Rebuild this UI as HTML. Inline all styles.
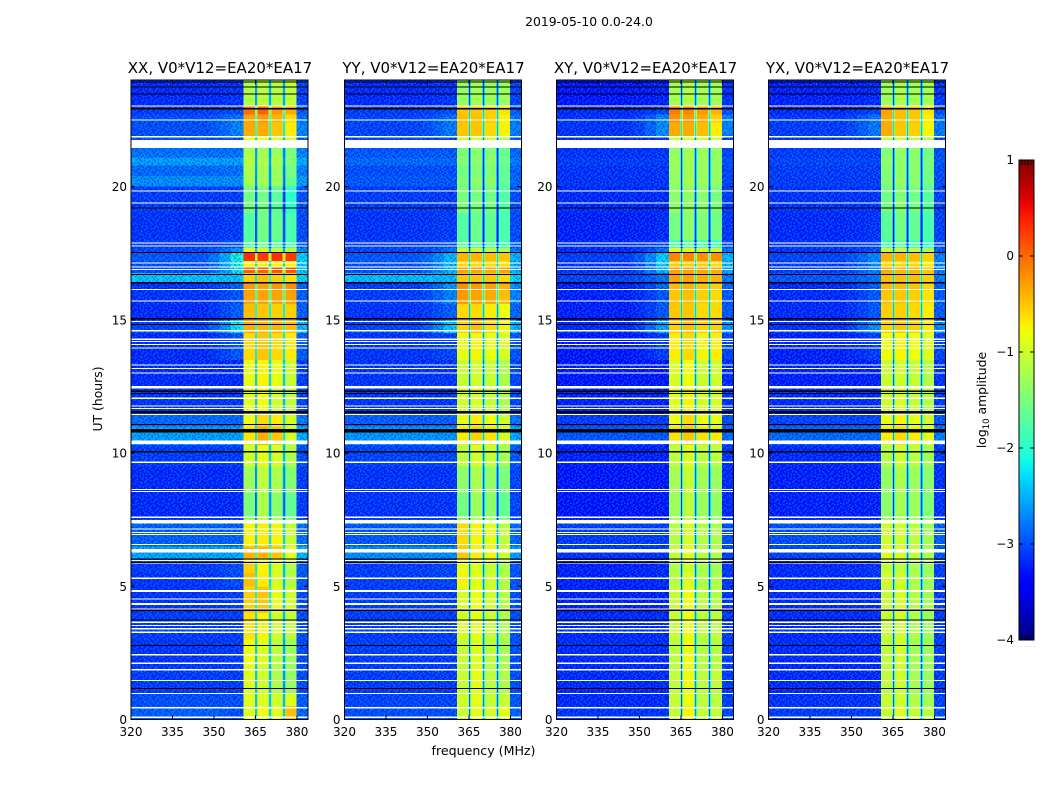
<!DOCTYPE html>
<html lang="en">
<head>
<meta charset="utf-8">
<title>2019-05-10 0.0-24.0</title>
<style>
html,body{margin:0;padding:0;background:#fff;width:1050px;height:800px;overflow:hidden}
svg{display:block}
text{font-family:"DejaVu Sans","Liberation Sans",sans-serif;fill:#000}
</style>
</head>
<body>
<svg id="chart" xmlns="http://www.w3.org/2000/svg" width="1050" height="800" viewBox="0 0 1050 800">
  <defs>
    <linearGradient id="jetGradient" x1="0" y1="1" x2="0" y2="0"></linearGradient>
    <pattern id="speckle" patternUnits="userSpaceOnUse" width="27" height="21"></pattern>
  </defs>
  <rect x="0" y="0" width="1050" height="800" fill="#fff"/>
  <text x="589" y="26" font-size="12.4" text-anchor="middle">2019-05-10 0.0-24.0</text>
  <text x="483.5" y="755" font-size="12.6" text-anchor="middle">frequency (MHz)</text>
  <text x="0" y="0" font-size="12.4" text-anchor="middle" transform="translate(102,399) rotate(-90)">UT (hours)</text>
  <g id="panels"></g>
  <g id="colorbar"></g>
  <text x="0" y="0" font-size="12.4" text-anchor="middle" transform="translate(986,400) rotate(-90)">log<tspan font-size="8.5" dy="3">10</tspan><tspan dy="-3"> amplitude</tspan></text>
</svg>
<script>
// ---- data ----
const panelTitles = ['XX, V0*V12=EA20*EA17', 'YY, V0*V12=EA20*EA17', 'XY, V0*V12=EA20*EA17', 'YX, V0*V12=EA20*EA17'];
const frequencyTicks = [320, 335, 350, 365, 380];
const hourTicks = [0, 5, 10, 15, 20];
const colorbarTicks = [-4, -3, -2, -1, 0, 1];
const colorbarMinorFractions = [0.2, 0.4, 0.6, 0.8];
const colorbarDotFractions = [0, 0.2, 0.4, 0.6, 0.8, 1];

// start hour of every time block; the last entry closes the last block
const rowStartHours = [0,0.5,1,2,3,4,5,5.5,6,6.5,7.5,8.5,9.5,10.3,11,11.5,12.5,13.5,14.5,15,15.6,16.1,16.4,16.75,17,17.2,17.5,17.7,18,19,20,20.4,20.8,21.1,21.45,21.9,22.4,22.7,23,24];

// log10 amplitude per block: [background, shoulder, band1, band2, band3, band4]
const xxLevels = [
[-2.9,-3.0,-0.9,-0.8,-0.9,-0.45],[-3.0,-3.0,-0.9,-0.9,-1.0,-0.9],[-3.1,-3.1,-0.9,-1.0,-1.2,-1.35],[-3.15,-3.1,-0.8,-0.9,-1.1,-1.3],
[-3.1,-3.1,-0.65,-0.75,-1.0,-1.1],[-3.15,-3.1,-0.55,-0.5,-0.85,-1.0],[-3.15,-3.0,-0.45,-0.7,-0.95,-1.2],[-3.1,-3.0,-0.55,-0.75,-0.95,-1.2],
[-2.5,-2.5,-0.4,-0.4,-0.5,-0.85],[-2.9,-2.9,-0.75,-0.7,-0.75,-1.05],[-3.2,-3.2,-1.5,-1.2,-1.4,-1.65],[-3.2,-3.2,-1.3,-1.1,-1.2,-1.45],
[-3.1,-3.1,-1.0,-0.85,-0.95,-1.2],[-2.55,-2.55,-0.65,-0.35,-0.5,-0.95],[-2.85,-2.85,-0.8,-0.6,-0.7,-0.95],[-3.15,-3.15,-0.9,-0.8,-1.0,-1.1],
[-3.2,-3.2,-0.85,-0.75,-0.85,-1.05],[-3.2,-2.95,-0.6,-0.5,-0.6,-0.7],[-3.05,-2.2,-0.35,-0.4,-0.4,-0.45],[-3.2,-2.9,-0.45,-0.5,-0.55,-0.55],
[-3.15,-2.95,-0.3,-0.3,-0.3,-0.3],[-3.15,-2.9,-0.25,-0.3,-0.25,-0.2],[-2.35,-2.35,-0.55,-0.45,-0.55,-0.65],[-3.0,-2.2,0.05,0.05,0.1,0.1],
[-3.0,-2.1,-0.75,-0.75,-0.75,-0.75],[-2.95,-2.1,0.3,0.25,0.3,0.25],[-3.05,-2.6,-0.85,-0.95,-1.05,-1.1],[-3.1,-3.0,-1.7,-1.6,-1.7,-1.8],
[-3.15,-3.1,-1.75,-1.55,-1.6,-1.8],[-3.1,-3.1,-1.55,-1.55,-1.7,-2.0],[-2.65,-2.65,-1.25,-1.25,-1.3,-1.6],[-2.85,-2.8,-1.2,-1.25,-1.3,-1.55],
[-2.55,-2.55,-1.15,-1.2,-1.2,-1.45],[-2.8,-2.8,-1.2,-1.25,-1.3,-1.5],[-3.0,-3.0,-0.8,-0.8,-0.9,-1.0],[-3.0,-2.7,-0.35,-0.35,-0.5,-0.7],
[-3.0,-2.8,-0.3,-0.25,-0.4,-0.6],[-3.1,-3.0,-0.05,0.05,-0.25,-0.35],[-3.2,-3.15,-1.2,-1.1,-1.15,-1.1]
];
const yyLevels = [
[-3.0,-3.0,-1.0,-0.85,-0.95,-0.85],[-3.05,-3.05,-1.0,-0.85,-1.05,-1.05],[-3.1,-3.1,-1.05,-0.85,-1.1,-1.2],[-3.1,-3.1,-1.05,-0.9,-1.1,-1.25],
[-3.1,-3.1,-0.95,-0.85,-1.05,-1.2],[-3.1,-3.1,-0.95,-0.8,-1.0,-1.15],[-3.1,-3.05,-0.75,-0.85,-1.0,-1.15],[-3.1,-3.05,-0.85,-0.9,-1.05,-1.2],
[-2.65,-2.65,-0.5,-0.7,-0.75,-1.0],[-2.95,-2.95,-0.6,-0.75,-0.85,-1.1],[-3.15,-3.15,-1.55,-1.3,-1.4,-1.65],[-3.15,-3.15,-1.4,-1.2,-1.35,-1.5],
[-3.05,-3.05,-1.1,-0.95,-1.05,-1.25],[-2.6,-2.6,-0.7,-0.55,-0.65,-0.95],[-2.9,-2.9,-0.85,-0.7,-0.8,-1.0],[-3.15,-3.15,-1.0,-0.95,-1.05,-1.2],
[-3.15,-3.15,-1.05,-1.0,-1.05,-1.2],[-3.15,-3.05,-0.85,-0.75,-0.85,-0.95],[-3.05,-2.3,-0.55,-0.45,-0.6,-0.75],[-3.15,-2.9,-0.6,-0.6,-0.7,-0.8],
[-3.1,-2.7,-0.25,-0.3,-0.35,-0.45],[-3.1,-2.6,-0.2,-0.25,-0.3,-0.4],[-2.4,-2.4,-0.5,-0.5,-0.5,-0.6],[-3.0,-2.4,-0.3,-0.3,-0.35,-0.3],
[-3.0,-2.4,-0.6,-0.6,-0.6,-0.65],[-2.95,-2.4,-0.4,-0.4,-0.45,-0.5],[-3.05,-2.8,-1.0,-1.05,-1.1,-1.2],[-3.1,-3.0,-1.7,-1.65,-1.7,-1.85],
[-3.15,-3.1,-1.75,-1.6,-1.65,-1.8],[-3.1,-3.1,-1.5,-1.5,-1.55,-1.75],[-2.95,-2.95,-1.5,-1.4,-1.4,-1.65],[-3.0,-3.0,-1.55,-1.45,-1.45,-1.65],
[-2.85,-2.85,-1.45,-1.4,-1.4,-1.6],[-2.95,-2.95,-1.5,-1.4,-1.45,-1.6],[-3.05,-3.05,-1.0,-0.95,-1.0,-1.2],[-3.05,-2.75,-0.5,-0.5,-0.6,-0.75],
[-3.05,-2.8,-0.45,-0.45,-0.55,-0.75],[-3.1,-3.0,-0.5,-0.5,-0.55,-0.65],[-3.2,-3.15,-1.35,-1.25,-1.3,-1.3]
];
const xyLevels = [
[-3.15,-3.15,-1.05,-0.75,-1.05,-1.05],[-3.2,-3.2,-1.05,-0.8,-1.1,-1.1],[-3.2,-3.2,-1.1,-0.8,-1.1,-1.1],[-3.2,-3.2,-1.1,-0.8,-1.15,-1.15],
[-3.2,-3.2,-1.05,-0.8,-1.1,-1.1],[-3.25,-3.25,-1.05,-0.8,-1.1,-1.15],[-3.25,-3.2,-1.15,-0.9,-1.2,-1.2],[-3.25,-3.2,-1.2,-1.0,-1.2,-1.25],
[-3.15,-3.15,-1.05,-0.85,-1.1,-1.15],[-3.1,-3.1,-1.15,-0.95,-1.15,-1.2],[-3.3,-3.3,-1.3,-1.1,-1.3,-1.35],[-3.3,-3.3,-1.25,-1.05,-1.25,-1.3],
[-3.25,-3.25,-1.1,-0.9,-1.1,-1.1],[-2.95,-2.95,-0.65,-0.5,-0.65,-0.7],[-3.1,-3.1,-0.8,-0.6,-0.8,-0.85],[-3.25,-3.25,-0.9,-0.75,-0.95,-0.95],
[-3.3,-3.3,-0.95,-0.8,-1.0,-1.0],[-3.3,-3.1,-0.7,-0.6,-0.75,-0.7],[-3.2,-2.5,-0.55,-0.45,-0.55,-0.55],[-3.25,-2.95,-0.5,-0.5,-0.6,-0.6],
[-3.25,-2.95,-0.5,-0.45,-0.55,-0.6],[-3.25,-2.85,-0.45,-0.4,-0.5,-0.55],[-3.05,-2.8,-0.3,-0.3,-0.35,-0.4],[-3.15,-2.4,-0.3,-0.3,-0.3,-0.35],
[-3.15,-2.3,-0.55,-0.55,-0.55,-0.6],[-3.1,-2.3,-0.15,-0.15,-0.2,-0.2],[-3.2,-2.8,-0.85,-0.85,-0.9,-1.0],[-3.2,-3.1,-1.8,-1.7,-1.75,-1.85],
[-3.25,-3.2,-1.55,-1.4,-1.45,-1.55],[-3.2,-3.2,-1.4,-1.35,-1.4,-1.5],[-3.15,-3.15,-1.35,-1.25,-1.3,-1.35],[-3.15,-3.15,-1.35,-1.25,-1.3,-1.35],
[-3.1,-3.1,-1.3,-1.25,-1.3,-1.35],[-3.15,-3.15,-1.35,-1.25,-1.3,-1.35],[-3.2,-3.2,-1.0,-0.9,-0.95,-1.0],[-3.15,-2.65,-0.35,-0.35,-0.45,-0.7],
[-3.15,-2.7,-0.2,-0.25,-0.35,-0.55],[-3.2,-3.05,-0.1,-0.15,-0.25,-0.4],[-3.3,-3.25,-1.25,-1.15,-1.25,-1.25]
];
const yxLevels = [
[-3.1,-3.1,-1.05,-0.9,-1.05,-1.1],[-3.15,-3.15,-1.05,-1.0,-1.15,-1.25],[-3.2,-3.2,-1.1,-1.0,-1.25,-1.3],[-3.2,-3.2,-1.1,-1.0,-1.25,-1.3],
[-3.2,-3.2,-1.05,-1.0,-1.2,-1.3],[-3.2,-3.2,-1.05,-0.95,-1.15,-1.25],[-3.2,-3.15,-1.0,-1.0,-1.2,-1.3],[-3.2,-3.15,-1.05,-1.1,-1.2,-1.3],
[-3.05,-3.05,-0.9,-0.95,-1.05,-1.2],[-3.0,-3.0,-1.0,-1.0,-1.1,-1.25],[-3.25,-3.25,-1.4,-1.25,-1.3,-1.45],[-3.25,-3.25,-1.35,-1.2,-1.3,-1.4],
[-3.2,-3.2,-1.15,-1.0,-1.1,-1.25],[-2.85,-2.85,-0.7,-0.6,-0.7,-0.85],[-3.05,-3.05,-0.85,-0.75,-0.85,-1.0],[-3.2,-3.2,-1.0,-0.95,-1.05,-1.15],
[-3.25,-3.25,-1.05,-1.0,-1.05,-1.15],[-3.25,-3.1,-0.8,-0.75,-0.8,-0.9],[-3.15,-2.6,-0.55,-0.5,-0.55,-0.7],[-3.2,-2.95,-0.55,-0.55,-0.6,-0.7],
[-3.2,-2.95,-0.5,-0.5,-0.55,-0.65],[-3.2,-2.9,-0.45,-0.45,-0.5,-0.6],[-2.95,-2.8,-0.45,-0.45,-0.45,-0.55],[-3.1,-2.7,-0.35,-0.4,-0.4,-0.5],
[-3.1,-2.7,-0.6,-0.6,-0.6,-0.7],[-3.05,-2.7,-0.4,-0.4,-0.45,-0.55],[-3.15,-3.0,-1.0,-1.05,-1.1,-1.2],[-3.15,-3.1,-1.8,-1.7,-1.8,-1.9],
[-3.2,-3.15,-1.7,-1.55,-1.65,-1.8],[-3.15,-3.15,-1.55,-1.45,-1.55,-1.7],[-3.1,-3.1,-1.45,-1.35,-1.4,-1.55],[-3.1,-3.1,-1.45,-1.35,-1.4,-1.55],
[-3.05,-3.05,-1.4,-1.35,-1.4,-1.5],[-3.1,-3.1,-1.45,-1.35,-1.4,-1.55],[-3.15,-3.15,-1.0,-1.0,-1.05,-1.2],[-3.1,-2.75,-0.35,-0.5,-0.55,-0.75],
[-3.1,-2.8,-0.35,-0.45,-0.5,-0.7],[-3.2,-3.05,-0.3,-0.45,-0.5,-0.65],[-3.25,-3.2,-1.3,-1.2,-1.25,-1.25]
];
const panelLevels = [xxLevels, yyLevels, xyLevels, yxLevels];

// frequency channel edges (MHz); each channel reads one block column
// column 0 = background blended toward the shoulder by channelShoulderShare
const channelEdges = [320,348,352,356,360.6,364.8,365.1,365.45,365.75,369.8,370.1,370.45,370.8,374.8,375.1,375.45,375.8,379.9,384];
const channelSource = [0,0,0,0,2,2,2,3,3,3,3,4,4,4,4,5,5,0];
const channelShoulderShare = [0,0.2,0.55,1,0,0,0,0,0,0,0,0,0,0,0,0,0,0.7];
const channelOffset = [0,0,0,0,0,-0.95,-1.9,-0.95,0,-0.95,-1.9,-0.95,0,-0.95,-1.9,-0.95,0,0.1];

// flagged (white) and zero (black) time ranges, hours
const flaggedRanges = [[0.05,0.11],[0.42,0.47],[0.95,1.0],[1.44,1.49],[1.84,1.89],[2.09,2.14],[2.41,2.46],[3.25,3.30],[3.38,3.43],[3.50,3.55],[3.63,3.68],[4.11,4.16],[4.30,4.38],[4.50,4.55],[4.78,4.86],[5.28,5.33],[5.85,5.89],[5.94,5.98],[6.26,6.40],[6.55,6.59],[6.93,6.97],[7.00,7.04],[7.13,7.17],[7.35,7.49],[7.56,7.62],[8.54,8.58],[8.62,8.66],[9.63,9.69],[10.33,10.43],[10.45,10.48],[11.43,11.47],[11.65,11.69],[11.75,11.79],[12.03,12.09],[12.43,12.51],[13.00,13.03],[13.16,13.20],[13.29,13.33],[13.93,13.97],[14.06,14.10],[14.16,14.20],[14.25,14.29],[14.57,14.61],[14.91,14.95],[15.68,15.72],[16.12,16.16],[16.87,16.91],[16.97,17.01],[17.11,17.15],[17.75,17.79],[17.86,17.90],[19.36,19.40],[19.81,19.85],[21.45,21.75],[21.85,21.89],[22.48,22.52],[23.01,23.05]];
const blackRanges = [[1.15,1.19],[2.75,2.79],[3.71,3.75],[4.08,4.12],[5.88,5.92],[6.00,6.04],[10.03,10.07],[10.78,10.90],[11.05,11.09],[11.49,11.57],[12.22,12.26],[12.30,12.34],[14.81,14.85],[15.02,15.06],[16.37,16.41],[16.68,16.72],[17.51,17.55],[19.18,19.22],[22.90,22.94],[23.45,23.49],[23.71,23.75],[23.91,23.95]];

// hand-typed speckle tile drawn over the quiet background: + lighter, - darker, . none
const speckleTile = [
  '+.-.+..-+.-.+-..+',
  '.-+..-.+.-+..+-.-',
  '-..+.+-..+.-.-.+.',
  '.+-.-..+-.+.-.+..',
  '+..-.+.-.+..-+.-+',
  '.-.+.-+..-.+..-..',
  '-+..-.+.+.-.+-.+-',
  '..-+..-.-+.-..+..',
  '+-.-.+.+..+.-+.-.',
  '.+.+-.-..-.+.-..+',
  '-.-..+.+-.+-..+-.',
  '.+.-+.-.+..-.+.+-',
  '+.-.-..+.-+.+.-..',
  '..+.+-+.-.-..-.+-'
];

// ---- layout and axis functions ----
const svgNS = 'http://www.w3.org/2000/svg';
const panelLefts = [131, 344.5, 556.5, 768.5];
const panelWidth = 177;
const plotTop = 80;
const plotBottom = 719.5;
const freqMin = 320, freqMax = 384, hourMin = 0, hourMax = 24;
const cbLeft = 1019, cbRight = 1034, cbTop = 160, cbBottom = 640;
const levelMin = -4, levelMax = 1;

function xScale(left, mhz) { return left + (mhz - freqMin) / (freqMax - freqMin) * panelWidth; }
function yScale(hour) { return plotBottom - (hour - hourMin) / (hourMax - hourMin) * (plotBottom - plotTop); }
function cbScale(level) { return cbBottom - (level - levelMin) / (levelMax - levelMin) * (cbBottom - cbTop); }

function jetPart(t, pts) {
  for (let i = 1; i < pts.length; i++) {
    if (t <= pts[i][0]) {
      const a = pts[i - 1], b = pts[i];
      return a[1] + (b[1] - a[1]) * (t - a[0]) / (b[0] - a[0]);
    }
  }
  return pts[pts.length - 1][1];
}
function jet(level) {
  const t = Math.max(0, Math.min(1, (level - levelMin) / (levelMax - levelMin)));
  const r = jetPart(t, [[0, 0], [0.35, 0], [0.66, 1], [0.89, 1], [1, 0.5]]);
  const g = jetPart(t, [[0, 0], [0.125, 0], [0.375, 1], [0.64, 1], [0.91, 0], [1, 0]]);
  const b = jetPart(t, [[0, 0.5], [0.11, 1], [0.34, 1], [0.65, 0], [1, 0]]);
  return 'rgb(' + Math.round(r * 255) + ',' + Math.round(g * 255) + ',' + Math.round(b * 255) + ')';
}
function make(parent, tag, attrs, content) {
  const el = document.createElementNS(svgNS, tag);
  for (const k in attrs) el.setAttribute(k, attrs[k]);
  if (content !== undefined) el.textContent = content;
  parent.appendChild(el);
  return el;
}

// speckle pattern
const specklePattern = document.getElementById('speckle');
const speckleCell = 1.5;
speckleTile.forEach(function (rowText, r) {
  rowText.split('').forEach(function (ch, c) {
    if (ch === '.') return;
    const px = make(specklePattern, 'rect', {
      x: c * speckleCell, y: r * speckleCell, width: speckleCell, height: speckleCell,
      fill: ch === '+' ? '#00a0ff' : '#0000b0', 'fill-opacity': ch === '+' ? 0.45 : 0.4
    });
    
    
  });
});

const panelsGroup = document.getElementById('panels');

panelTitles.forEach(function (title, p) {
  const left = panelLefts[p];
  const right = left + panelWidth;
  const levels = panelLevels[p];
  const g = make(panelsGroup, 'g', {});
  
  

  const heat = make(g, 'g', { 'shape-rendering': 'crispEdges' });
  
  

  levels.forEach(function (row, r) {
    const y0 = yScale(rowStartHours[r + 1]);
    const y1 = yScale(rowStartHours[r]);
    channelSource.forEach(function (source, c) {
      const x0 = xScale(left, channelEdges[c]);
      const x1 = xScale(left, channelEdges[c + 1]);
      const share = channelShoulderShare[c];
      const base = source === 0 ? row[0] + share * (row[1] - row[0]) : row[source];
      const cell = make(heat, 'rect', {
        x: x0.toFixed(2), y: y0.toFixed(2),
        width: (x1 - x0).toFixed(2), height: (y1 - y0).toFixed(2),
        fill: jet(base + channelOffset[c])
      });
      
      
    });
  });

  const texLeft = make(g, 'rect', { x: left, y: plotTop, width: xScale(left, channelEdges[4]) - left, height: plotBottom - plotTop, fill: 'url(#speckle)' });
  
  
  const texRight = make(g, 'rect', { x: xScale(left, channelEdges[17]), y: plotTop, width: right - xScale(left, channelEdges[17]), height: plotBottom - plotTop, fill: 'url(#speckle)' });
  
  

  flaggedRanges.forEach(function (range) {
    const y0 = yScale(range[1]);
    const y1 = yScale(range[0]);
    const line = make(g, 'rect', { x: left, y: y0.toFixed(2), width: panelWidth, height: Math.max(1, y1 - y0).toFixed(2), fill: '#fff', 'shape-rendering': 'crispEdges' });
    
    
  });
  blackRanges.forEach(function (range) {
    const y0 = yScale(range[1]);
    const y1 = yScale(range[0]);
    const line = make(g, 'rect', { x: left, y: y0.toFixed(2), width: panelWidth, height: Math.max(1, y1 - y0).toFixed(2), fill: '#000', 'shape-rendering': 'crispEdges' });
    
    
  });

  const frame = make(g, 'rect', { x: left, y: plotTop, width: panelWidth, height: plotBottom - plotTop, fill: 'none', stroke: '#000', 'stroke-width': 1 });
  
  

  const titleEl = make(g, 'text', { x: left + panelWidth / 2 + 0.5, y: 73, 'font-size': 15, 'text-anchor': 'middle' }, title);
  
  

  frequencyTicks.forEach(function (f) {
    const x = xScale(left, f);
    const t1 = make(g, 'line', { x1: x, x2: x, y1: plotBottom, y2: plotBottom - 4, stroke: '#000', 'stroke-width': 1 });
    
    
    const t2 = make(g, 'line', { x1: x, x2: x, y1: plotTop, y2: plotTop + 4, stroke: '#000', 'stroke-width': 1 });
    
    
    const lab = make(g, 'text', { x: x, y: 736, 'font-size': 12, 'text-anchor': 'middle' }, String(f));
    
    
  });
  hourTicks.forEach(function (h) {
    const y = yScale(h);
    const t1 = make(g, 'line', { x1: left, x2: left + 4, y1: y, y2: y, stroke: '#000', 'stroke-width': 1 });
    
    
    const t2 = make(g, 'line', { x1: right, x2: right - 4, y1: y, y2: y, stroke: '#000', 'stroke-width': 1 });
    
    
    const lab = make(g, 'text', { x: left - 4, y: y + 4.5, 'font-size': 12, 'text-anchor': 'end' }, String(h));
    
    
  });
});

// colorbar
const cbGroup = document.getElementById('colorbar');
const gradient = document.getElementById('jetGradient');
for (let i = 0; i <= 50; i++) {
  make(gradient, 'stop', { offset: (i * 2) + '%', 'stop-color': jet(levelMin + (levelMax - levelMin) * i / 50) });
}
const cbBar = make(cbGroup, 'rect', { x: cbLeft, y: cbTop, width: cbRight - cbLeft, height: cbBottom - cbTop, fill: 'url(#jetGradient)', stroke: '#000', 'stroke-width': 1 });



colorbarTicks.forEach(function (level) {
  const y = cbScale(level);
  const t1 = make(cbGroup, 'line', { x1: cbLeft, x2: cbLeft + 4, y1: y, y2: y, stroke: '#000', 'stroke-width': 1 });
  
  
  const t2 = make(cbGroup, 'line', { x1: cbRight, x2: cbRight - 4, y1: y, y2: y, stroke: '#000', 'stroke-width': 1 });
  
  
  const lab = make(cbGroup, 'text', { x: 1014, y: y + 4, 'font-size': 12, 'text-anchor': 'end' }, level < 0 ? '\u2212' + Math.abs(level) : String(level));
  
  
});
colorbarMinorFractions.forEach(function (f) {
  const x = cbLeft + f * (cbRight - cbLeft);
  const top = make(cbGroup, 'line', { x1: x, x2: x, y1: cbTop, y2: cbTop + 5, stroke: '#000', 'stroke-width': 1 });
  
  
  const bottom = make(cbGroup, 'line', { x1: x, x2: x, y1: cbBottom, y2: cbBottom - 5, stroke: '#000', 'stroke-width': 1 });
  
  
});
colorbarDotFractions.forEach(function (f) {
  const dot = make(cbGroup, 'text', { x: cbLeft + f * (cbRight - cbLeft), y: 647, 'font-size': 5, 'text-anchor': 'middle', style: 'fill:#777' }, '.');
  
  
});
</script>
</body>
</html>
